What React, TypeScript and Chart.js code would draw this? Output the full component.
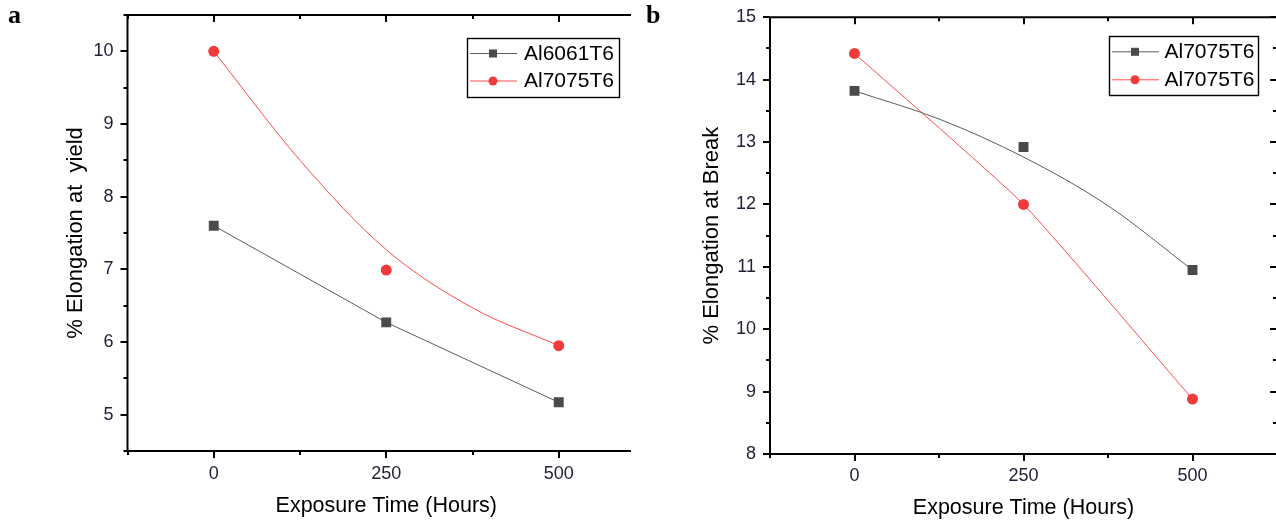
import React, { useEffect, useRef } from "react";
import { Chart, registerables } from "chart.js";

Chart.register(...registerables);

// ---------- data ----------
const HOURS = [0, 250, 500];
const FIT_HOURS = [0, 125, 250, 375, 500];

// panel a : % elongation at yield
const YIELD_AL6061 = [7.6, 6.27, 5.17];
const YIELD_AL7075 = [10.0, 6.99, 5.95];
const YIELD_AL7075_FIT = [10.0, 8.5, 7.27, 6.47, 5.95];

// panel b : % elongation at break
const BREAK_GRAY = [13.82, 12.92, 10.95];
const BREAK_GRAY_FIT = [13.82, 13.37, 12.76, 11.98, 10.95];
const BREAK_RED = [14.42, 12.0, 8.88];

const LABELS_A = ["Al6061T6", "Al7075T6"];
const LABELS_B = ["Al7075T6", "Al7075T6"];

const X_TICKS = [0, 250, 500];
const X_MINOR = [-125, 125, 375, 625];
const Y_TICKS_A = [5, 6, 7, 8, 9, 10];
const Y_MINOR_A = [4.5, 5.5, 6.5, 7.5, 8.5, 9.5, 10.5];
const Y_TICKS_B = [8, 9, 10, 11, 12, 13, 14, 15];
const Y_MINOR_B = [8.5, 9.5, 10.5, 11.5, 12.5, 13.5, 14.5];

const TITLE_X = "Exposure Time (Hours)";
const TITLE_Y_A = "% Elongation at  yield";
const TITLE_Y_B = "% Elongation at Break";

// ---------- styles ----------
const FONT = "'Liberation Sans', Arial, Helvetica, sans-serif";
const GRAY_LINE = "#5c5c5c";
const GRAY_MARK = "#4a4a4a";
const RED_LINE = "#ff4a4a";
const RED_MARK = "#f03a3c";
const TICK_COLOR = "#22223a";

const pts = (xs: number[], ys: number[]) => xs.map((x, i) => ({ x, y: ys[i] }));

function makeFrame(xMinor: number[], yMinor: number[], rightAxis: boolean) {
  return {
    id: "frame",
    afterDatasetsDraw(chart: any) {
      const { ctx, chartArea: ca, scales } = chart;
      const xs = scales.x;
      const ys = scales.y;
      ctx.save();
      ctx.strokeStyle = "#000";
      ctx.lineWidth = 2;
      ctx.beginPath();
      ctx.moveTo(ca.left, ca.top - 1);
      ctx.lineTo(ca.left, ca.bottom + 1);
      ctx.moveTo(ca.left - 1, ca.bottom);
      ctx.lineTo(ca.right + 1, ca.bottom);
      ctx.moveTo(ca.left - 1, ca.top);
      ctx.lineTo(ca.right + 1, ca.top);
      if (rightAxis) {
        ctx.moveTo(ca.right, ca.top);
        ctx.lineTo(ca.right, ca.bottom);
      }
      ctx.stroke();
      const MAJ = 7;
      const MIN = 4;
      ctx.beginPath();
      const xt = (vals: number[], len: number) => {
        vals.forEach((v) => {
          const px = Math.round(xs.getPixelForValue(v));
          ctx.moveTo(px, ca.bottom);
          ctx.lineTo(px, ca.bottom + len);
          ctx.moveTo(px, ca.top);
          ctx.lineTo(px, ca.top + len);
        });
      };
      const yt = (vals: number[], len: number) => {
        vals.forEach((v) => {
          const py = Math.round(ys.getPixelForValue(v));
          ctx.moveTo(ca.left - len, py);
          ctx.lineTo(ca.left, py);
          if (rightAxis) {
            ctx.moveTo(ca.right - len, py);
            ctx.lineTo(ca.right, py);
          }
        });
      };
      xt(xs.ticks.map((t: any) => t.value), MAJ);
      xt(xMinor, MIN);
      yt(ys.ticks.map((t: any) => t.value), MAJ);
      yt(yMinor, MIN);
      ctx.stroke();
      ctx.restore();
    },
  };
}

type LegendItem = { label: string; line: string; marker: string; shape: "rect" | "circle" };

function makeLegend(items: LegendItem[], offRight: number, offTop: number, w: number, h: number, rowY: number[], textX: number) {
  return {
    id: "boxLegend",
    afterDraw(chart: any) {
      const { ctx, chartArea } = chart;
      const x0 = Math.round(chartArea.right - offRight);
      const y0 = Math.round(chartArea.top + offTop);
      ctx.save();
      ctx.fillStyle = "#fff";
      ctx.fillRect(x0, y0, w, h);
      ctx.strokeStyle = "#000";
      ctx.lineWidth = 1.4;
      ctx.strokeRect(x0 + 0.5, y0 + 0.5, w, h);
      items.forEach((it, i) => {
        const cy = y0 + rowY[i];
        ctx.strokeStyle = it.line;
        ctx.lineWidth = 1;
        ctx.beginPath();
        ctx.moveTo(x0 + 3, cy + 0.5);
        ctx.lineTo(x0 + 50, cy + 0.5);
        ctx.stroke();
        ctx.fillStyle = it.marker;
        if (it.shape === "rect") {
          ctx.fillRect(x0 + 26 - 4, cy - 3.5, 8, 8);
        } else {
          ctx.beginPath();
          ctx.arc(x0 + 26, cy + 0.5, 4.5, 0, Math.PI * 2);
          ctx.fill();
        }
        ctx.fillStyle = "#000";
        ctx.font = `21px ${FONT}`;
        ctx.textBaseline = "middle";
        ctx.textAlign = "left";
        ctx.fillText(it.label, x0 + textX, cy + 1);
      });
      ctx.restore();
    },
  };
}

function axisOptions(opts: {
  xMax: number;
  yMin: number;
  yMax: number;
  yTicks: number[];
  yTitle: string;
  yWidth: number;
  xHeight: number;
  yTitlePad: number;
  xTitlePad: number;
  xTickPad: number;
}) {
  return {
    x: {
      type: "linear" as const,
      min: -125,
      max: opts.xMax,
      grid: { display: false, drawTicks: false },
      border: { display: false },
      afterBuildTicks: (s: any) => {
        s.ticks = X_TICKS.map((v) => ({ value: v }));
      },
      afterFit: (s: any) => {
        s.height = opts.xHeight;
        s.paddingLeft = 0;
        s.paddingRight = 0;
        s.paddingTop = 0;
        s.paddingBottom = 0;
      },
      ticks: { color: TICK_COLOR, font: { size: 18, family: FONT }, padding: opts.xTickPad, maxRotation: 0 },
      title: {
        display: true,
        text: TITLE_X,
        color: "#000",
        font: { size: 21.5, family: FONT },
        padding: { top: 0, bottom: opts.xTitlePad },
      },
    },
    y: {
      type: "linear" as const,
      min: opts.yMin,
      max: opts.yMax,
      grid: { display: false, drawTicks: false },
      border: { display: false },
      afterBuildTicks: (s: any) => {
        s.ticks = opts.yTicks.map((v) => ({ value: v }));
      },
      afterFit: (s: any) => {
        s.width = opts.yWidth;
        s.paddingTop = 0;
        s.paddingBottom = 0;
        s.paddingLeft = 0;
        s.paddingRight = 0;
      },
      ticks: { color: TICK_COLOR, font: { size: 18, family: FONT }, padding: 14 },
      title: {
        display: true,
        text: opts.yTitle,
        color: "#000",
        font: { size: 22, family: FONT },
        padding: { top: opts.yTitlePad, bottom: 0 },
      },
    },
  };
}

function PanelA() {
  const ref = useRef<HTMLCanvasElement>(null);
  useEffect(() => {
    if (!ref.current) return;
    const chart = new Chart(ref.current, {
      type: "line",
      data: {
        datasets: [
          {
            label: LABELS_A[0],
            data: pts(HOURS, YIELD_AL6061),
            borderColor: GRAY_LINE,
            borderWidth: 1,
            pointStyle: "rect",
            pointRadius: 7,
            pointBackgroundColor: GRAY_MARK,
            pointBorderWidth: 0,
            tension: 0,
          },
          {
            label: LABELS_A[1],
            data: pts(HOURS, YIELD_AL7075),
            showLine: false,
            pointStyle: "circle",
            pointRadius: 5.5,
            pointBackgroundColor: RED_MARK,
            pointBorderWidth: 0,
          },
          {
            label: LABELS_A[1] + " fit",
            data: pts(FIT_HOURS, YIELD_AL7075_FIT),
            borderColor: RED_LINE,
            borderWidth: 1,
            pointRadius: 0,
            cubicInterpolationMode: "monotone",
          },
        ],
      },
      options: {
        responsive: false,
        animation: false,
        devicePixelRatio: 1,
        layout: { padding: { left: 0, right: 15, top: 15, bottom: 0 } },
        plugins: { legend: { display: false }, tooltip: { enabled: false } },
        scales: axisOptions({
          xMax: 625,
          yMin: 4.5,
          yMax: 10.5,
          yTicks: Y_TICKS_A,
          yTitle: TITLE_Y_A,
          yWidth: 127.5,
          xHeight: 76,
          yTitlePad: 63,
          xTitlePad: 8,
          xTickPad: 12,
        }),
      } as any,
      plugins: [
        makeFrame(X_MINOR, Y_MINOR_A, false),
        makeLegend(
          [
            { label: LABELS_A[0], line: GRAY_LINE, marker: GRAY_MARK, shape: "rect" },
            { label: LABELS_A[1], line: RED_LINE, marker: RED_MARK, shape: "circle" },
          ],
          178,
          23,
          152,
          59,
          [15, 42.5],
          57
        ),
      ],
    });
    return () => chart.destroy();
  }, []);
  return <canvas ref={ref} width={660} height={527} style={{ display: "block" }} />;
}

function PanelB() {
  const ref = useRef<HTMLCanvasElement>(null);
  useEffect(() => {
    if (!ref.current) return;
    const chart = new Chart(ref.current, {
      type: "line",
      data: {
        datasets: [
          {
            label: LABELS_B[0],
            data: pts(HOURS, BREAK_GRAY),
            showLine: false,
            pointStyle: "rect",
            pointRadius: 7,
            pointBackgroundColor: GRAY_MARK,
            pointBorderWidth: 0,
          },
          {
            label: LABELS_B[0] + " fit",
            data: pts(FIT_HOURS, BREAK_GRAY_FIT),
            borderColor: GRAY_LINE,
            borderWidth: 1,
            pointRadius: 0,
            cubicInterpolationMode: "monotone",
          },
          {
            label: LABELS_B[1],
            data: pts(HOURS, BREAK_RED),
            borderColor: RED_LINE,
            borderWidth: 1,
            pointStyle: "circle",
            pointRadius: 5.5,
            pointBackgroundColor: RED_MARK,
            pointBorderWidth: 0,
            tension: 0.15,
          },
        ],
      },
      options: {
        responsive: false,
        animation: false,
        devicePixelRatio: 1,
        layout: { padding: { left: 0, right: 23, top: 17.3, bottom: 0 } },
        plugins: { legend: { display: false }, tooltip: { enabled: false } },
        scales: axisOptions({
          xMax: 625,
          yMin: 8,
          yMax: 15,
          yTicks: Y_TICKS_B,
          yTitle: TITLE_Y_B,
          yWidth: 130,
          xHeight: 73,
          yTitlePad: 59,
          xTitlePad: 6,
          xTickPad: 11.5,
        }),
      } as any,
      plugins: [
        makeFrame(X_MINOR, Y_MINOR_B, true),
        makeLegend(
          [
            { label: LABELS_B[0], line: GRAY_LINE, marker: GRAY_MARK, shape: "rect" },
            { label: LABELS_B[1], line: RED_LINE, marker: RED_MARK, shape: "circle" },
          ],
          168,
          18.5,
          149,
          59,
          [15.3, 43.3],
          55.5
        ),
      ],
    });
    return () => chart.destroy();
  }, []);
  return <canvas ref={ref} width={660} height={527} style={{ display: "block" }} />;
}

const panelLetter: React.CSSProperties = {
  position: "absolute",
  fontFamily: "'Liberation Serif', 'Times New Roman', serif",
  fontWeight: "bold",
  fontSize: 26,
  lineHeight: "26px",
  color: "#000",
  margin: 0,
};

export default function App() {
  return (
    <div
      style={{
        position: "fixed",
        left: 0,
        top: 0,
        width: 1276,
        height: 527,
        overflow: "hidden",
        background: "#fff",
      }}
    >
      <div style={{ position: "absolute", left: 0, top: 0, width: 631, height: 527, overflow: "hidden" }}>
        <PanelA />
      </div>
      <div style={{ position: "absolute", left: 640, top: 0, width: 660, height: 527 }}>
        <PanelB />
      </div>
      <div style={{ ...panelLetter, left: 8, top: 2 }}>a</div>
      <div style={{ ...panelLetter, left: 646, top: 2 }}>b</div>
    </div>
  );
}
